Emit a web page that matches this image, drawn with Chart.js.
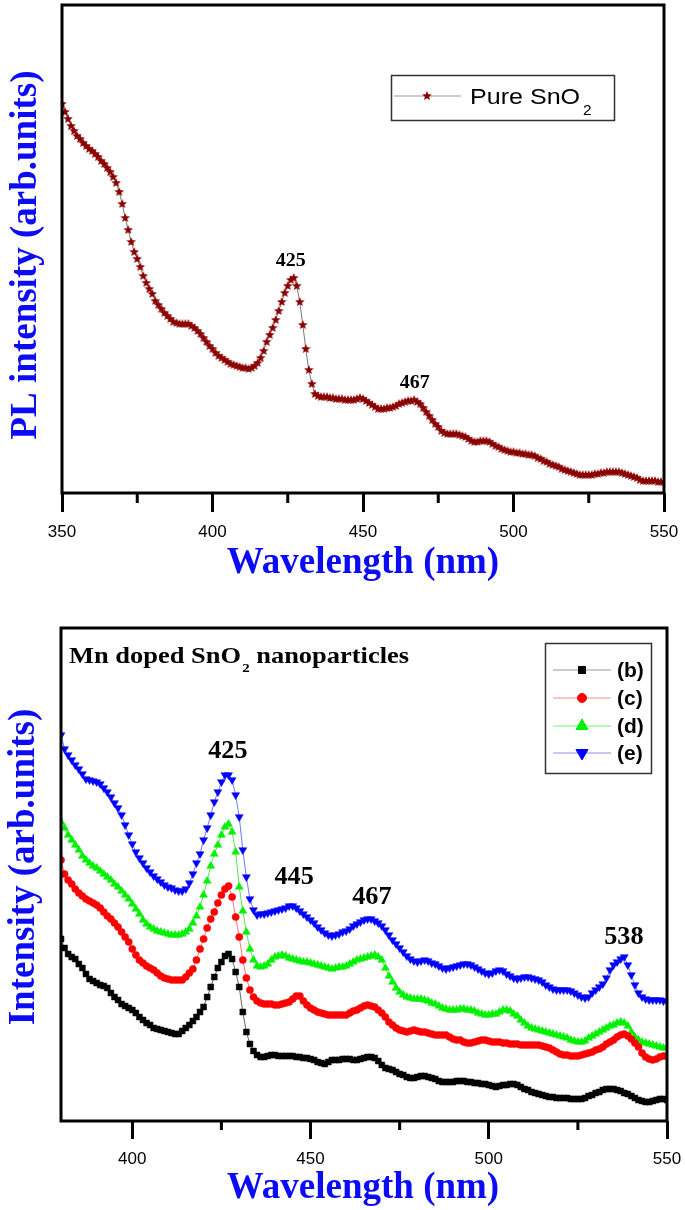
<!DOCTYPE html>
<html>
<head>
<meta charset="utf-8">
<script src="https://cdn.jsdelivr.net/npm/chart.js@4.4.1/dist/chart.umd.min.js"></script>
<style>
  html, body { margin: 0; padding: 0; background: #fff; }
  canvas { display: block; }
</style>
</head>
<body>
<canvas id="pure" width="685" height="600"></canvas>
<canvas id="doped" width="685" height="610"></canvas>
<script>
// sampling grid (1 nm steps)
const pureStart = 350, pureEnd = 550;
const dopedStart = 380, dopedEnd = 550;

// (a) pure SnO2, 350..550 nm
const pureSnO2 = [
  389,381,374,367,362,357,354,350,347,344,
  342,339,336,332,329,325,321,316,310,301,
  289,275,263,251,241,234,226,217,210,204,
  199,192,188,184,180,177,174,171,170,169,
  169,169,169,167,165,162,159,155,151,147,
  144,140,137,135,133,131,129,128,127,126,
  125,125,124,125,127,130,135,142,151,158,
  165,173,182,191,200,207,213,215,207,191,
  168,144,123,109,99,97,96,96,96,95,
  95,94,94,94,93,93,93,93,94,95,
  94,92,90,88,86,84,84,84,85,85,
  86,87,89,90,91,92,92,93,91,89,
  85,81,77,73,69,66,62,60,59,59,
  59,59,58,57,56,54,52,51,51,52,
  52,52,51,49,47,46,44,43,42,41,
  41,40,40,39,39,38,38,37,35,34,
  32,31,29,28,27,26,24,23,22,21,
  20,19,18,18,18,18,18,19,19,20,
  20,21,21,21,21,21,20,19,18,17,
  16,15,13,12,12,12,12,12,11,11,
  11
];

// Mn doped SnO2, 380..550 nm
const dopedB = [
  182,173,167,164,162,157,153,147,142,140,
  138,136,135,133,128,124,121,117,115,113,
  111,108,104,101,98,96,93,92,91,90,
  89,88,87,87,90,93,96,100,104,109,
  114,124,134,144,153,159,165,167,162,149,
  134,109,89,77,70,66,64,64,65,66,
  66,65,65,65,65,65,64,64,63,63,
  62,61,59,58,57,59,61,61,61,62,
  62,62,61,61,62,63,64,64,63,60,
  56,53,52,51,49,47,46,44,43,43,
  44,45,45,44,43,42,40,39,39,39,
  39,40,40,40,39,39,38,38,37,37,
  36,35,34,35,36,36,37,37,36,34,
  32,31,29,28,27,26,25,24,24,23,
  23,23,23,22,22,22,22,23,25,26,
  28,29,31,32,32,32,31,30,28,27,
  25,23,21,20,19,19,20,21,22,22,
  21
];
const dopedC = [
  261,247,241,237,232,228,225,222,220,218,
  216,213,209,205,202,198,194,189,184,179,
  172,166,161,158,155,153,151,148,145,143,
  142,141,141,141,141,144,148,152,161,172,
  182,193,202,209,218,226,232,235,224,204,
  184,161,143,131,124,120,118,117,117,117,
  116,116,117,118,119,122,125,125,120,116,
  113,111,109,108,107,106,106,106,106,106,
  106,108,110,111,113,115,116,115,114,111,
  108,104,99,96,93,91,90,89,90,91,
  90,89,89,88,87,86,86,86,86,84,
  82,81,81,79,78,78,79,80,81,81,
  80,79,79,79,78,78,77,77,77,76,
  76,76,76,76,76,75,74,73,71,69,
  67,66,66,65,65,65,66,67,68,69,
  71,72,74,77,79,81,84,86,87,85,
  82,78,74,68,64,62,61,62,64,65,
  65
];
const dopedD = [
  299,293,286,281,276,271,265,261,258,255,
  253,250,247,244,241,237,234,230,226,222,
  217,212,207,201,197,194,192,190,189,188,
  187,186,186,186,187,189,192,198,205,214,
  226,240,255,267,276,286,294,297,289,269,
  234,210,189,172,161,155,154,155,157,161,
  164,165,166,165,163,162,161,160,159,159,
  158,157,156,155,154,153,152,153,154,154,
  155,157,159,161,162,163,164,165,166,164,
  161,153,145,139,133,129,126,124,123,122,
  122,122,121,120,118,117,115,113,112,111,
  111,111,112,112,111,111,110,108,107,106,
  106,107,107,109,111,111,110,107,105,101,
  98,95,93,92,91,90,89,88,87,86,
  85,84,83,81,80,79,79,80,83,85,
  87,89,91,93,95,96,98,99,98,95,
  89,84,81,79,78,77,76,75,74,73,
  73
];
const dopedE = [
  386,372,366,361,356,352,347,342,341,340,
  339,337,333,329,324,318,313,306,296,286,
  277,269,263,258,253,249,245,242,239,236,
  234,233,231,230,230,232,238,247,258,267,
  281,293,306,319,329,339,346,346,341,326,
  304,271,244,222,211,206,207,207,208,209,
  210,211,212,213,215,215,213,210,207,204,
  201,198,194,191,188,186,185,186,187,189,
  190,192,195,197,199,201,202,202,200,198,
  195,191,186,181,177,173,169,165,162,160,
  159,160,161,160,158,157,155,153,152,153,
  154,155,156,157,157,156,154,152,150,148,
  147,148,150,151,150,147,145,143,142,143,
  144,144,143,142,141,139,136,134,132,131,
  131,131,131,130,128,126,124,123,124,128,
  131,134,137,143,151,156,159,162,164,156,
  146,136,128,124,122,121,121,121,121,120,
  120
];

const pureTicks = [350, 400, 450, 500, 550];
const pureMinor = [375, 425, 475, 525];
const dopedTicks = [400, 450, 500, 550];
const dopedMinor = [425, 475, 525];
const dopedNames = ['(b)', '(c)', '(d)', '(e)'];

const pureWaves = [];
for (let w = pureStart; w <= pureEnd; w++) pureWaves.push(w);
const dopedWaves = [];
for (let w = dopedStart; w <= dopedEnd; w++) dopedWaves.push(w);

const SERIF = 'Liberation Serif';
const SANS = 'Liberation Sans';
const BLUE = '#0b0bf5';

function makeStar(size, color) {
  const c = document.createElement('canvas');
  c.width = c.height = size;
  const g = c.getContext('2d');
  const R = size / 2, r = R * 0.45;
  g.beginPath();
  for (let i = 0; i < 10; i++) {
    const a = -Math.PI / 2 + i * Math.PI / 5;
    const rad = i % 2 ? r : R;
    g.lineTo(R + rad * Math.cos(a), R + rad * Math.sin(a));
  }
  g.closePath();
  g.fillStyle = color;
  g.fill();
  return c;
}
const star = makeStar(10, '#8b0000');

function label(ctx, str, x, y, font, color, align, sx, baseline) {
  ctx.save();
  ctx.translate(x, y);
  ctx.scale(sx || 1, 1);
  ctx.font = font;
  ctx.fillStyle = color;
  ctx.textAlign = align || 'left';
  ctx.textBaseline = baseline || 'alphabetic';
  ctx.fillText(str, 0, 0);
  ctx.restore();
}

function yTitle(ctx, str, x, y) {
  ctx.save();
  ctx.translate(x, y);
  ctx.rotate(-Math.PI / 2);
  ctx.font = 'bold 37px ' + SERIF;
  ctx.fillStyle = BLUE;
  ctx.textAlign = 'center';
  ctx.fillText(str, 0, 0);
  ctx.restore();
}

function frameAndTicks(chart, minor, minorLen) {
  const { ctx, chartArea: a, scales: { x } } = chart;
  ctx.save();
  ctx.strokeStyle = '#000';
  ctx.lineWidth = 3;
  minor.forEach(v => {
    const px = x.getPixelForValue(v);
    ctx.beginPath();
    ctx.moveTo(px, a.bottom);
    ctx.lineTo(px, a.bottom + minorLen);
    ctx.stroke();
  });
  ctx.strokeRect(a.left, a.top, a.right - a.left, a.bottom - a.top);
  ctx.restore();
}

function spectrumChart(id, o) {
  return new Chart(document.getElementById(id), {
    type: 'line',
    data: { labels: o.waves, datasets: o.datasets },
    options: {
      responsive: false,
      animation: false,
      events: [],
      layout: { padding: o.padding },
      plugins: { legend: { display: false }, tooltip: { enabled: false } },
      scales: {
        x: {
          type: 'linear', min: o.min, max: o.max,
          afterBuildTicks: s => { s.ticks = o.ticks.map(v => ({ value: v })); },
          afterFit: s => {
            s.height = o.axisHeight;
            s.paddingLeft = 0;
            s.paddingRight = 0;
          },
          grid: { drawOnChartArea: false, drawTicks: true, tickLength: o.tickLen, tickWidth: 3, tickColor: '#000' },
          border: { display: false },
          ticks: { autoSkip: false, maxRotation: 0, padding: 10, color: '#000', font: { family: SANS, size: 17 } }
        },
        y: { display: false, min: 0, max: o.ymax }
      }
    },
    plugins: [o.decor]
  });
}

// ---------- top: pure SnO2 ----------
spectrumChart('pure', {
  waves: pureWaves, min: pureStart, max: pureEnd, ticks: pureTicks,
  padding: { left: 62, right: 21, top: 5, bottom: 0 },
  axisHeight: 107, tickLen: 19, ymax: 488,
  datasets: [{
    data: pureSnO2,
    borderColor: '#555', borderWidth: 0.8,
    pointStyle: star, pointRadius: 4
  }],
  decor: {
    id: 'pureDecor',
    afterDraw(chart) {
      const { ctx, scales: { x, y } } = chart;
      frameAndTicks(chart, pureMinor, 10);
      label(ctx, 'Wavelength (nm)', 363, 573, 'bold 37px ' + SERIF, BLUE, 'center');
      yTitle(ctx, 'PL intensity (arb.units)', 36, 255);
      // peak marks
      label(ctx, '425', x.getPixelForValue(426), y.getPixelForValue(232), 'bold 19px ' + SERIF, '#000', 'center', 1.05, 'middle');
      label(ctx, '467', x.getPixelForValue(467.2), y.getPixelForValue(110), 'bold 19px ' + SERIF, '#000', 'center', 1.05, 'middle');
      // legend
      ctx.save();
      ctx.strokeStyle = '#333';
      ctx.lineWidth = 1.5;
      ctx.strokeRect(391.5, 75.5, 223, 45);
      ctx.strokeStyle = '#999';
      ctx.lineWidth = 1;
      ctx.beginPath(); ctx.moveTo(394, 96); ctx.lineTo(461, 96); ctx.stroke();
      ctx.drawImage(star, 427 - 5, 96 - 5);
      ctx.restore();
      label(ctx, 'Pure SnO', 470, 104, '22px ' + SANS, '#000', 'left', 1.14);
      label(ctx, '2', 583, 115, '14px ' + SANS, '#000', 'left', 1.1);
    }
  }
});

// ---------- bottom: Mn doped ----------
const dopedStyle = [
  { line: '#404040', fill: '#000000', shape: 'rect', r: 4.2, rot: 0, legLine: '#999', legR: 5 },
  { line: '#ff5050', fill: '#ff0000', shape: 'circle', r: 3.6, rot: 0, legLine: '#f09090', legR: 4.5 },
  { line: '#30d830', fill: '#00f000', shape: 'triangle', r: 4.6, rot: 0, legLine: '#70f070', legR: 7 },
  { line: '#5050ff', fill: '#0000ff', shape: 'triangle', r: 4.6, rot: 180, legLine: '#9090f0', legR: 7 }
];
const dopedSeries = [dopedB, dopedC, dopedD, dopedE];

spectrumChart('doped', {
  waves: dopedWaves, min: dopedStart, max: dopedEnd, ticks: dopedTicks,
  padding: { left: 61, right: 18, top: 28, bottom: 0 },
  axisHeight: 89, tickLen: 18, ymax: 493,
  datasets: dopedSeries.map((d, i) => ({
    label: dopedNames[i],
    data: d,
    borderColor: dopedStyle[i].line, borderWidth: 0.8,
    pointStyle: dopedStyle[i].shape, pointRotation: dopedStyle[i].rot,
    pointRadius: dopedStyle[i].r,
    pointBackgroundColor: dopedStyle[i].fill, pointBorderColor: dopedStyle[i].fill, pointBorderWidth: 0.5
  })),
  decor: {
    id: 'dopedDecor',
    afterDraw(chart) {
      const { ctx, chartArea: a, scales: { x, y } } = chart;
      frameAndTicks(chart, dopedMinor, 9);
      label(ctx, 'Wavelength (nm)', 363, 598, 'bold 37px ' + SERIF, BLUE, 'center');
      yTitle(ctx, 'Intensity (arb.units)', 34, 267);

      // heading inside plot
      ctx.save();
      ctx.translate(a.left + 8, 63);
      ctx.scale(1.15, 1);
      ctx.font = 'bold 23px ' + SERIF;
      ctx.fillStyle = '#000';
      ctx.fillText('Mn doped SnO', 0, 0);
      let w = ctx.measureText('Mn doped SnO').width;
      ctx.font = 'bold 13px ' + SERIF;
      ctx.fillText('2', w + 1, 9);
      w += ctx.measureText('2').width + 1;
      ctx.font = 'bold 23px ' + SERIF;
      ctx.fillText(' nanoparticles', w, 0);
      ctx.restore();

      const peaks = [['425', 426.8, 369], ['445', 445.4, 243], ['467', 467.2, 223], ['538', 537.9, 183]];
      peaks.forEach(p => label(ctx, p[0], x.getPixelForValue(p[1]), y.getPixelForValue(p[2]), 'bold 25px ' + SERIF, '#000', 'center', 1.05, 'middle'));

      // legend
      ctx.save();
      ctx.strokeStyle = '#333';
      ctx.lineWidth = 1.5;
      ctx.strokeRect(545.5, 43.5, 106, 130);
      const rows = [70, 98, 126, 153];
      dopedStyle.forEach((s, i) => {
        ctx.strokeStyle = s.legLine;
        ctx.lineWidth = 1;
        ctx.beginPath(); ctx.moveTo(553, rows[i]); ctx.lineTo(611, rows[i]); ctx.stroke();
        ctx.fillStyle = s.fill;
        ctx.strokeStyle = s.fill;
        Chart.helpers.drawPoint(ctx, { pointStyle: s.shape, radius: s.legR, rotation: s.rot, borderWidth: 0.5 }, 582, rows[i]);
      });
      ctx.restore();
      dopedNames.forEach((n, i) => label(ctx, n, 617, rows[i] + 1, 'bold 21px ' + SANS, '#000', 'left', 1, 'middle'));
    }
  }
});
</script>
</body>
</html>
